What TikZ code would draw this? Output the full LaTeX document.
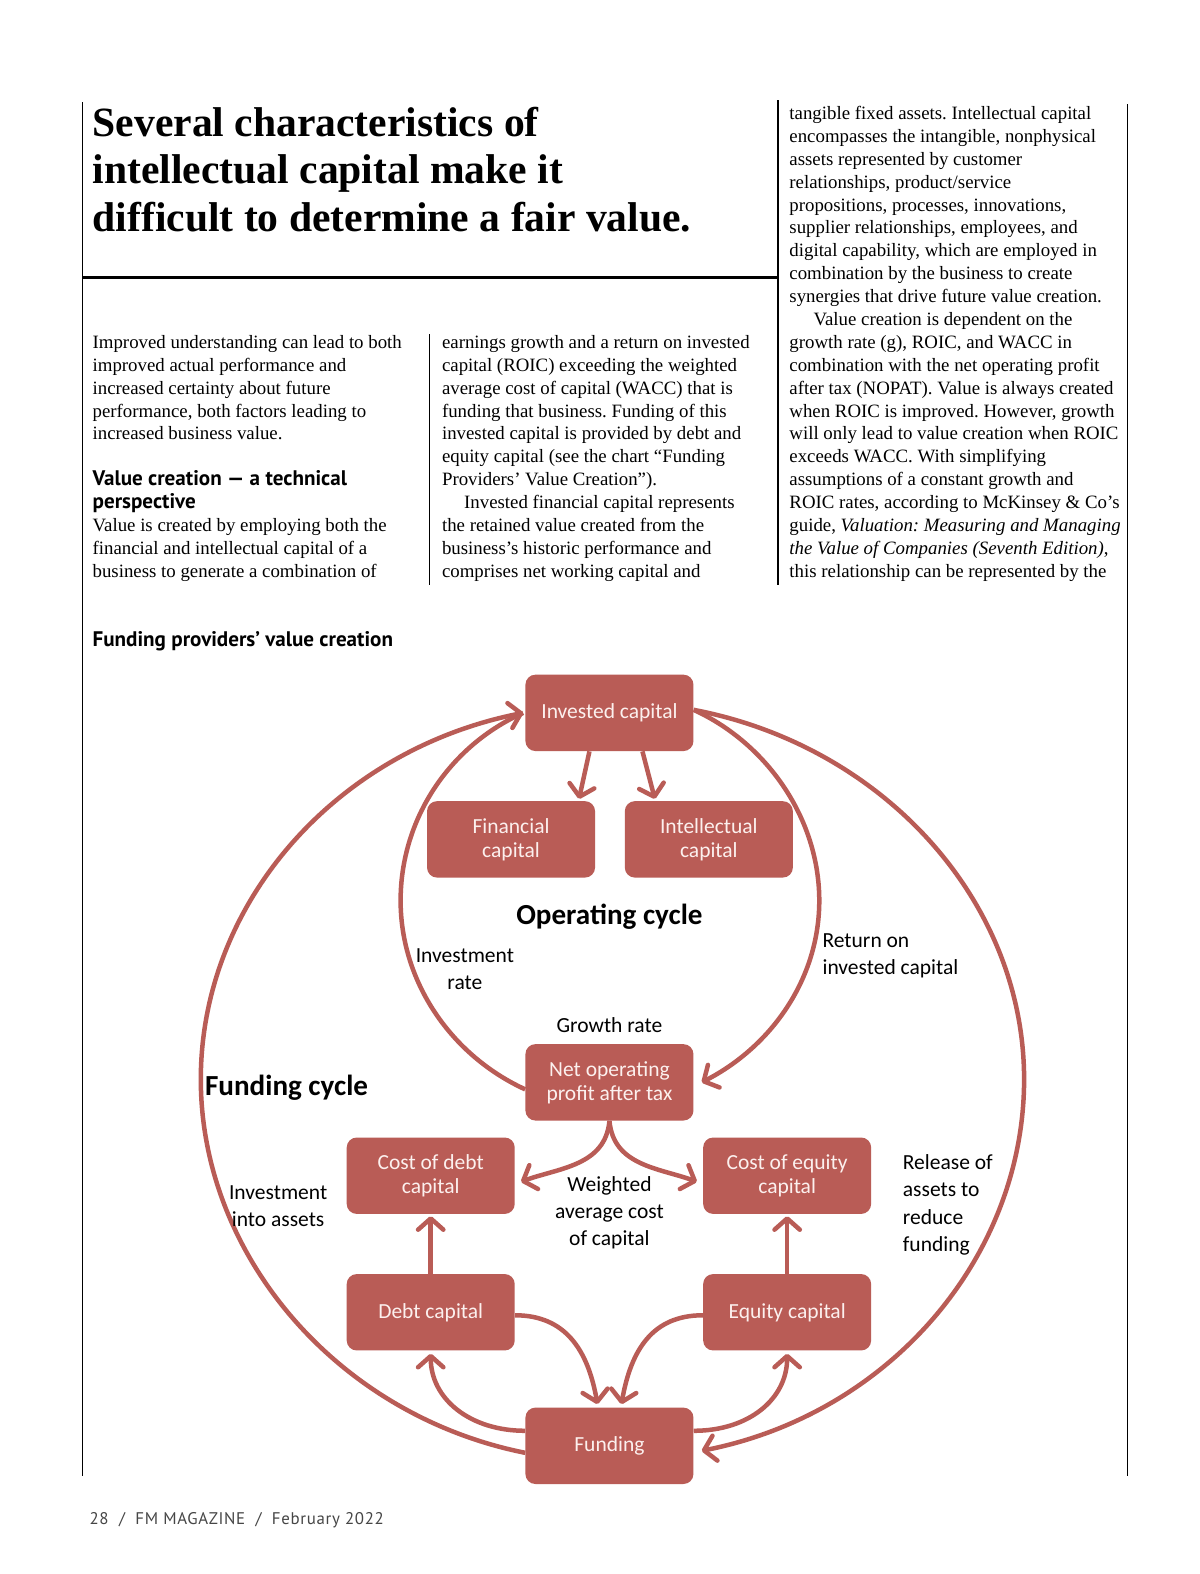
\documentclass[tikz,border=0pt]{standalone}
\usepackage{fontspec}
\setmainfont{Liberation Serif}
\newfontfamily\diagfont{Carlito}
\newfontfamily\dinfont{PT Sans}
\usepackage{tikz}
\usetikzlibrary{arrows.meta}

\definecolor{boxred}{RGB}{185,92,86}
\definecolor{boxtext}{RGB}{252,240,238}
\definecolor{footgray}{RGB}{70,70,70}

\tikzset{
  capbox/.style={fill=boxred, rounded corners=0.25cm, minimum width=4.2cm,
    minimum height=1.91cm, inner sep=2pt, text=boxtext, align=center,
    font=\diagfont\fontsize{15.3}{17}\selectfont},
  arcline/.style={draw=boxred, line width=3.2pt},
  flow/.style={arcline, -{Straight Barb[length=8pt,width=18pt,round]}},
  lbl/.style={inner sep=0pt, align=center, font=\diagfont\fontsize{15.3}{19.3}\selectfont},
  cyclbl/.style={inner sep=0pt, font=\diagfont\bfseries\fontsize{20.7}{24}\selectfont},
  bodyline/.style={anchor=base west, inner sep=0pt, font=\fontsize{13.4}{16}\selectfont},
  headline/.style={anchor=base west, inner sep=0pt, font=\bfseries\fontsize{29.6}{34}\selectfont},
  subhead/.style={anchor=base west, inner sep=0pt, font=\dinfont\bfseries\fontsize{15}{18}\selectfont},
  rule/.style={line width=1.1pt}
}

\begin{document}
\frenchspacing
\begin{tikzpicture}[x=0.0251cm,y=0.0251cm,line join=round]
\fill[white] (0,0) rectangle (1195.2,-1567.7);
\useasboundingbox (0,0) rectangle (1195.2,-1567.7);

%% ---------------- page rules ----------------
\draw[rule] (82,-102) -- (82,-1470);
\draw[rule] (775,-100) -- (775,-583);
\draw[rule] (428,-333) -- (428,-583);
\draw[rule] (1123,-104) -- (1123,-1470);
\draw[line width=2pt] (82,-276) -- (775,-276);

%% ---------------- headline ----------------
\node[headline] (h1) at (92,-135.5) {Several characteristics of};
\node[headline] (h2) at (92,-183) {intellectual capital make it};
\node[headline] (h3) at (92,-230.5) {difficult to determine a fair value.};

%% ---------------- left column ----------------
\node[bodyline] (l1) at (92,-347) {Improved understanding can lead to both};
\node[bodyline] (l2) at (92,-369.8) {improved actual performance and};
\node[bodyline] (l3) at (92,-392.6) {increased certainty about future};
\node[bodyline] (l4) at (92,-415.4) {performance, both factors leading to};
\node[bodyline] (l5) at (92,-438.2) {increased business value.};
\node[subhead] (l7) at (92,-483.8) {Value creation — a technical};
\node[subhead] (l8) at (92,-506.6) {perspective};
\node[bodyline] (l9) at (92,-529.4) {Value is created by employing both the};
\node[bodyline] (l10) at (92,-552.2) {financial and intellectual capital of a};
\node[bodyline] (l11) at (92,-575) {business to generate a combination of};

%% ---------------- middle column ----------------
\node[bodyline] (m1) at (440,-347) {earnings growth and a return on invested};
\node[bodyline] (m2) at (440,-369.8) {capital (ROIC) exceeding the weighted};
\node[bodyline] (m3) at (440,-392.6) {average cost of capital (WACC) that is};
\node[bodyline] (m4) at (440,-415.4) {funding that business. Funding of this};
\node[bodyline] (m5) at (440,-438.2) {invested capital is provided by debt and};
\node[bodyline] (m6) at (440,-461) {equity capital (see the chart “Funding};
\node[bodyline] (m7) at (440,-483.8) {Providers’ Value Creation”).};
\node[bodyline] (m8) at (462,-506.6) {Invested financial capital represents};
\node[bodyline] (m9) at (440,-529.4) {the retained value created from the};
\node[bodyline] (m10) at (440,-552.2) {business’s historic performance and};
\node[bodyline] (m11) at (440,-575) {comprises net working capital and};

%% ---------------- right column ----------------
\node[bodyline] (r1) at (786,-119) {tangible fixed assets. Intellectual capital};
\node[bodyline] (r2) at (786,-141.8) {encompasses the intangible, nonphysical};
\node[bodyline] (r3) at (786,-164.6) {assets represented by customer};
\node[bodyline] (r4) at (786,-187.4) {relationships, product/service};
\node[bodyline] (r5) at (786,-210.2) {propositions, processes, innovations,};
\node[bodyline] (r6) at (786,-233) {supplier relationships, employees, and};
\node[bodyline] (r7) at (786,-255.8) {digital capability, which are employed in};
\node[bodyline] (r8) at (786,-278.6) {combination by the business to create};
\node[bodyline] (r9) at (786,-301.4) {synergies that drive future value creation.};
\node[bodyline] (r10) at (810,-324.2) {Value creation is dependent on the};
\node[bodyline] (r11) at (786,-347) {growth rate (g), ROIC, and WACC in};
\node[bodyline] (r12) at (786,-369.8) {combination with the net operating profit};
\node[bodyline] (r13) at (786,-392.6) {after tax (NOPAT). Value is always created};
\node[bodyline] (r14) at (786,-415.4) {when ROIC is improved. However, growth};
\node[bodyline] (r15) at (786,-438.2) {will only lead to value creation when ROIC};
\node[bodyline] (r16) at (786,-461) {exceeds WACC. With simplifying};
\node[bodyline] (r17) at (786,-483.8) {assumptions of a constant growth and};
\node[bodyline] (r18) at (786,-506.6) {ROIC rates, according to McKinsey \& Co’s};
\node[bodyline] (r19) at (786,-529.4) {guide, \textit{Valuation: Measuring and Managing}};
\node[bodyline] (r20) at (786,-552.2) {\textit{the Value of Companies (Seventh Edition)},};
\node[bodyline] (r21) at (786,-575) {this relationship can be represented by the};

%% ---------------- chart ----------------
\node[subhead] (charttitle) at (92,-644) {Funding providers’ value creation};

\node[capbox] (invested) at (607,-710) {Invested capital};
\node[capbox] (financial) at (509,-836) {Financial\\capital};
\node[capbox] (intellect) at (706,-836) {Intellectual\\capital};
\node[capbox] (nopat) at (607,-1078) {Net operating\\profit after tax};
\node[capbox] (costdebt) at (429,-1171) {Cost of debt\\capital};
\node[capbox] (costeq) at (784,-1171) {Cost of equity\\capital};
\node[capbox] (debt) at (429,-1307) {Debt capital};
\node[capbox] (equity) at (784,-1307) {Equity capital};
\node[capbox] (funding) at (607,-1440) {Funding};

%% extreme points of the two cycles
\coordinate (outW) at (200,-1075);
\coordinate (outE) at (1020,-1075);
\coordinate (inW) at (399,-897);
\coordinate (inE) at (816,-897);

%% funding cycle, outer loop
\draw[flow] ([yshift=-0.175cm]funding.west) .. controls +(168.7:191) and +(-90:175) .. (outW)
  .. controls +(90:175) and +(191.3:191) .. ([xshift=-0.05cm]invested.west);
\draw[flow] ([yshift=0.075cm]invested.east) .. controls +(-10.8:193) and +(90:177) .. (outE)
  .. controls +(-90:176) and +(11.2:192) .. ([xshift=0.2cm,yshift=-0.125cm]funding.east);

%% operating cycle, inner loop
\draw[arcline] ([yshift=-0.175cm]nopat.west) .. controls +(155.4:81) and +(-90:81) .. (inW)
  .. controls +(90:81) and +(204.2:81) .. ([xshift=-0.05cm]invested.west);
\draw[flow] ([yshift=0.075cm]invested.east) .. controls +(-24.6:81) and +(90:81) .. (inE)
  .. controls +(-90:78) and +(27.2:78) .. ([xshift=0.2cm]nopat.east);

%% invested capital splits
\draw[flow] ([xshift=-0.5cm]invested.south) -- ([xshift=1.7cm,yshift=0.05cm]financial.north);
\draw[flow] ([xshift=0.825cm]invested.south) -- ([xshift=-1.35cm,yshift=0.05cm]intellect.north);

%% WACC
\draw[flow] (nopat.south) .. controls +(-95:45) and +(20:40) .. ([xshift=0.15cm,yshift=-0.15cm]costdebt.east);
\draw[flow] (nopat.south) .. controls +(-85:45) and +(160:40) .. ([xshift=-0.15cm,yshift=-0.15cm]costeq.west);
\draw[flow] (debt.north) -- ([yshift=-0.05cm]costdebt.south);
\draw[flow] (equity.north) -- ([yshift=-0.05cm]costeq.south);

%% capital to and from funding
\draw[flow] ([yshift=-0.075cm]debt.east) .. controls +(0:50) and +(100:55) .. ([xshift=-0.3cm,yshift=0.08cm]funding.north);
\draw[flow] ([yshift=-0.075cm]equity.west) .. controls +(180:50) and +(80:55) .. ([xshift=0.3cm,yshift=0.08cm]funding.north);
\draw[flow] ([yshift=0.375cm]funding.west) .. controls +(180:55) and +(-90:45) .. ([yshift=-0.075cm]debt.south);
\draw[flow] ([yshift=0.375cm]funding.east) .. controls +(0:55) and +(-90:45) .. ([yshift=-0.075cm]equity.south);

%% labels
\node[cyclbl] (opcycle) at (607,-913) {Operating cycle};
\node[cyclbl, anchor=west] (fundcycle) at (204,-1083) {Funding cycle};
\node[lbl] (invrate) at (463,-965) {Investment\\rate};
\node[lbl, anchor=west, align=left] (roiclbl) at (819,-952) {Return on\\invested capital};
\node[lbl] (growthlbl) at (607,-1021) {Growth rate};
\node[lbl] (intoassets) at (277,-1201) {Investment\\into assets};
\node[lbl] (wacclbl) at (607,-1208) {Weighted\\average cost\\of capital};
\node[lbl, anchor=west, align=left] (releaselbl) at (899,-1200) {Release of\\assets to\\reduce\\funding};

%% footer
\node[anchor=base west, inner sep=0pt, text=footgray,
  font=\dinfont\addfontfeatures{LetterSpace=4}\fontsize{12}{15}\selectfont]
  (footer) at (89,-1518) {28 \ / \ FM MAGAZINE \ / \ February 2022};
\end{tikzpicture}
\end{document}
